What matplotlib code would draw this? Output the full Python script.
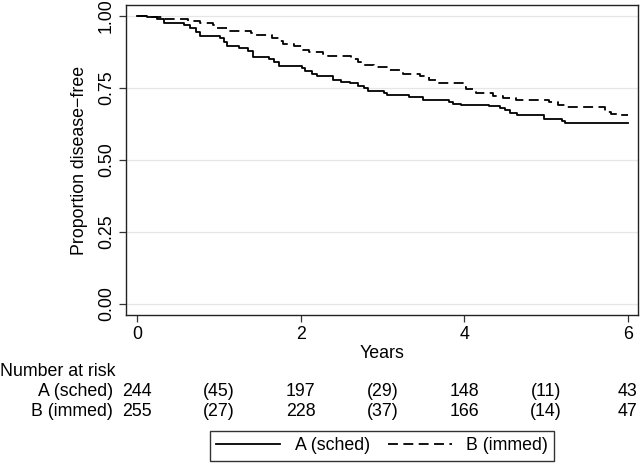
import matplotlib
matplotlib.use("Agg")
import matplotlib.pyplot as plt
import matplotlib.transforms as mtransforms

plt.rcParams["font.family"] = ["Liberation Sans", "DejaVu Sans"]
plt.rcParams["font.size"] = 12.8

# Kaplan-Meier steps (time in years, proportion disease-free)
time_a = [0, 0.12, 0.25, 0.33, 0.58, 0.65, 0.72, 0.77, 1.02, 1.06, 1.10, 1.25, 1.36,
          1.42, 1.62, 1.68, 1.74, 2.02, 2.06, 2.14, 2.20, 2.40, 2.50, 2.60, 2.70,
          2.77, 2.82, 3.02, 3.06, 3.33, 3.50, 3.82, 3.86, 3.96, 4.30, 4.44, 4.50,
          4.56, 4.65, 4.98, 5.20, 5.23, 6.0]
surv_a = [1.0, 0.996, 0.99, 0.976, 0.968, 0.957, 0.945, 0.93, 0.922, 0.91, 0.895,
          0.888, 0.878, 0.858, 0.852, 0.84, 0.828, 0.82, 0.81, 0.80, 0.79, 0.778,
          0.772, 0.766, 0.757, 0.749, 0.74, 0.732, 0.725, 0.717, 0.708, 0.702,
          0.695, 0.69, 0.686, 0.681, 0.674, 0.664, 0.655, 0.641, 0.634, 0.627, 0.627]

time_b = [0, 0.15, 0.30, 0.62, 0.77, 0.93, 0.98, 1.12, 1.40, 1.46, 1.65, 1.75, 1.79,
          1.92, 2.03, 2.10, 2.28, 2.34, 2.62, 2.70, 2.74, 2.90, 3.08, 3.25, 3.46,
          3.57, 3.65, 4.00, 4.02, 4.15, 4.35, 4.48, 4.63, 5.04, 5.15, 5.25, 5.72,
          5.80, 5.90, 6.0]
surv_b = [1.0, 0.995, 0.988, 0.982, 0.975, 0.968, 0.957, 0.948, 0.94, 0.933, 0.922,
          0.912, 0.903, 0.897, 0.882, 0.876, 0.869, 0.86, 0.85, 0.84, 0.83, 0.822,
          0.813, 0.80, 0.79, 0.778, 0.768, 0.755, 0.745, 0.734, 0.722, 0.714,
          0.708, 0.70, 0.69, 0.685, 0.668, 0.66, 0.655, 0.655]

risk_times = [0, 1, 2, 3, 4, 5, 6]
risk_a = ["244", "(45)", "197", "(29)", "148", "(11)", "43"]
risk_b = ["255", "(27)", "228", "(37)", "166", "(14)", "47"]
group_labels = ["A (sched)", "B (immed)"]

fig = plt.figure(figsize=(6.4, 4.63), dpi=100)
ax = fig.add_axes([126 / 640, 1 - 315 / 463, 512 / 640, 310 / 463])

ax.step(time_a, surv_a, where="post", color="black", lw=1.3, label=group_labels[0])
ax.step(time_b, surv_b, where="post", color="black", lw=1.3, dashes=(5.5, 3),
        label=group_labels[1])

ax.set_xlim(-0.134, 6.125)
ax.set_ylim(-0.038, 1.038)
ax.set_xticks([0, 2, 4, 6])
ax.set_yticks([0, 0.25, 0.5, 0.75, 1.0])
ax.set_yticklabels(["0.00", "0.25", "0.50", "0.75", "1.00"], rotation=90, va="center")
ax.grid(axis="y", color="#e6e6e6", lw=0.9)
ax.set_axisbelow(True)
ax.tick_params(direction="out", length=5, width=0.9, color="#333333", pad=3)
for s in ax.spines.values():
    s.set_color("#222222")
    s.set_linewidth(1.0)

ax.set_ylabel("Proportion disease\u2212free", labelpad=7)
ax.set_xlabel("Years", labelpad=1)

# number-at-risk table
trans = mtransforms.blended_transform_factory(ax.transData, fig.transFigure)
fig.text(0.0, 1 - 372 / 463, "Number at risk", ha="left", va="center")
for lab, row, ypix in zip(group_labels, [risk_a, risk_b], [392, 412]):
    yf = 1 - ypix / 463
    fig.text(113 / 640, yf, lab, ha="right", va="center")
    for t, v in zip(risk_times, row):
        ax.text(t, yf, v, transform=trans, ha="center", va="center", clip_on=False)

leg = fig.legend(loc="center", bbox_to_anchor=(382 / 640, 1 - 446 / 463),
                 ncol=2, frameon=True, fancybox=False, edgecolor="black",
                 handlelength=3.6, handletextpad=0.8, columnspacing=1.0,
                 borderpad=0.35)
leg.get_frame().set_linewidth(1.0)

fig.savefig("out.png", dpi=100)
